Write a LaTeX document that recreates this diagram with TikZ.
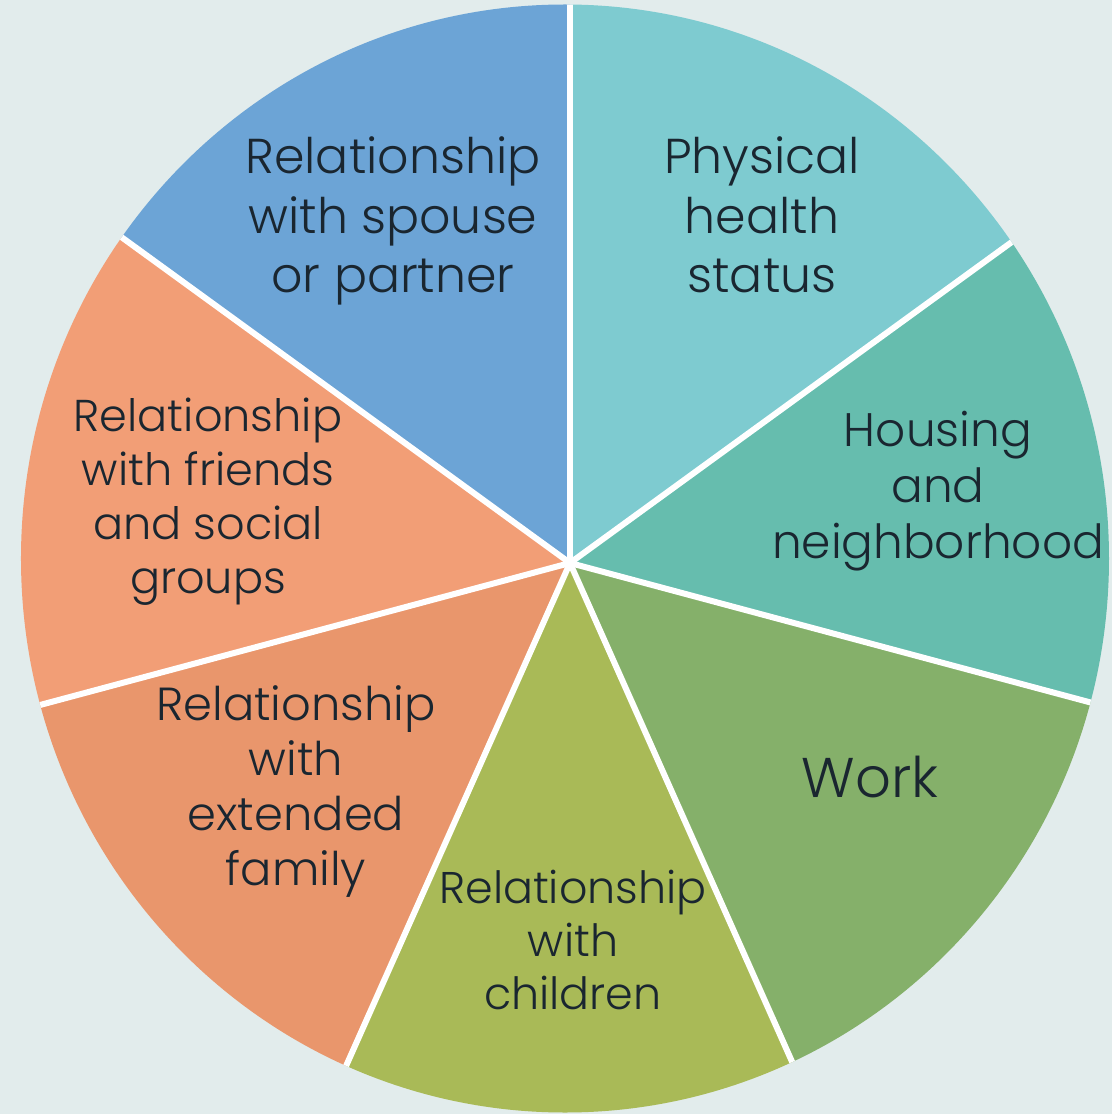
\documentclass[tikz,border=0pt]{standalone}
\usepackage{fontspec}
\setmainfont{Poppins}[UprightFont={* Light}]
\definecolor{bg}{HTML}{E2ECEC}
\definecolor{ink}{HTML}{1A2630}
\definecolor{spousecol}{HTML}{6CA4D6}
\definecolor{physcol}{HTML}{7ECBD0}
\definecolor{housecol}{HTML}{66BDAE}
\definecolor{workcol}{HTML}{85B06A}
\definecolor{childcol}{HTML}{A9BA57}
\definecolor{famcol}{HTML}{E9966C}
\definecolor{friendcol}{HTML}{F29E76}
\begin{document}
\begin{tikzpicture}[x=1pt,y=1pt,lbl/.style={align=center,text=ink,inner sep=0pt},gap/.style={white,line width=6pt}]
	\fill[bg] (-570,-551) rectangle (542,563);
	\useasboundingbox (-570,-551) rectangle (542,563);
	\begin{scope}
		\clip (-5,4.5) ellipse [x radius=544, y radius=554];
		\fill[physcol] (0,0) -- (36:1000) -- (63:1000) -- (90:1000) -- cycle;
		\fill[housecol] (0,0) -- (-15:1000) -- (11:1000) -- (36:1000) -- cycle;
		\fill[workcol] (0,0) -- (-66:1000) -- (-40:1000) -- (-15:1000) -- cycle;
		\fill[childcol] (0,0) -- (-114:1000) -- (-90:1000) -- (-66:1000) -- cycle;
		\fill[famcol] (0,0) -- (195:1000) -- (220:1000) -- (246:1000) -- cycle;
		\fill[friendcol] (0,0) -- (144:1000) -- (169:1000) -- (195:1000) -- cycle;
		\fill[spousecol] (0,0) -- (90:1000) -- (117:1000) -- (144:1000) -- cycle;
		\coordinate (o) at (0,0);
		\draw[gap] (o) -- (90:1000);
		\draw[gap] (o) -- (36:1000);
		\draw[gap] (o) -- (-15:1000);
		\draw[gap] (o) -- (-66:1000);
		\draw[gap] (o) -- (-114:1000);
		\draw[gap] (o) -- (195:1000);
		\draw[gap] (o) -- (144:1000);
	\end{scope}
	\node[lbl,font=\fontsize{49}{59.5}\selectfont] (spouse) at (-177,342) {Relationship\\with spouse\\or partner};
	\node[lbl,font=\fontsize{49}{59.5}\selectfont] (phys) at (192,348) {Physical\\health\\status};
	\node[lbl,font=\fontsize{47}{56}\selectfont] (house) at (368,72) {Housing\\and\\neighborhood};
	\node[lbl,font=\fontsize{56}{56}\selectfont] (work) at (300,-214) {Work};
	\node[lbl,font=\fontsize{44.6}{54}\selectfont] (friends) at (-362,61) {Relationship\\with friends\\and social\\groups};
	\node[lbl,font=\fontsize{46.4}{55}\selectfont] (family) at (-274,-229) {Relationship\\with\\extended\\family};
	\node[lbl,font=\fontsize{44.4}{53}\selectfont] (children) at (3,-377) {Relationship\\with\\children};
\end{tikzpicture}
\end{document}
